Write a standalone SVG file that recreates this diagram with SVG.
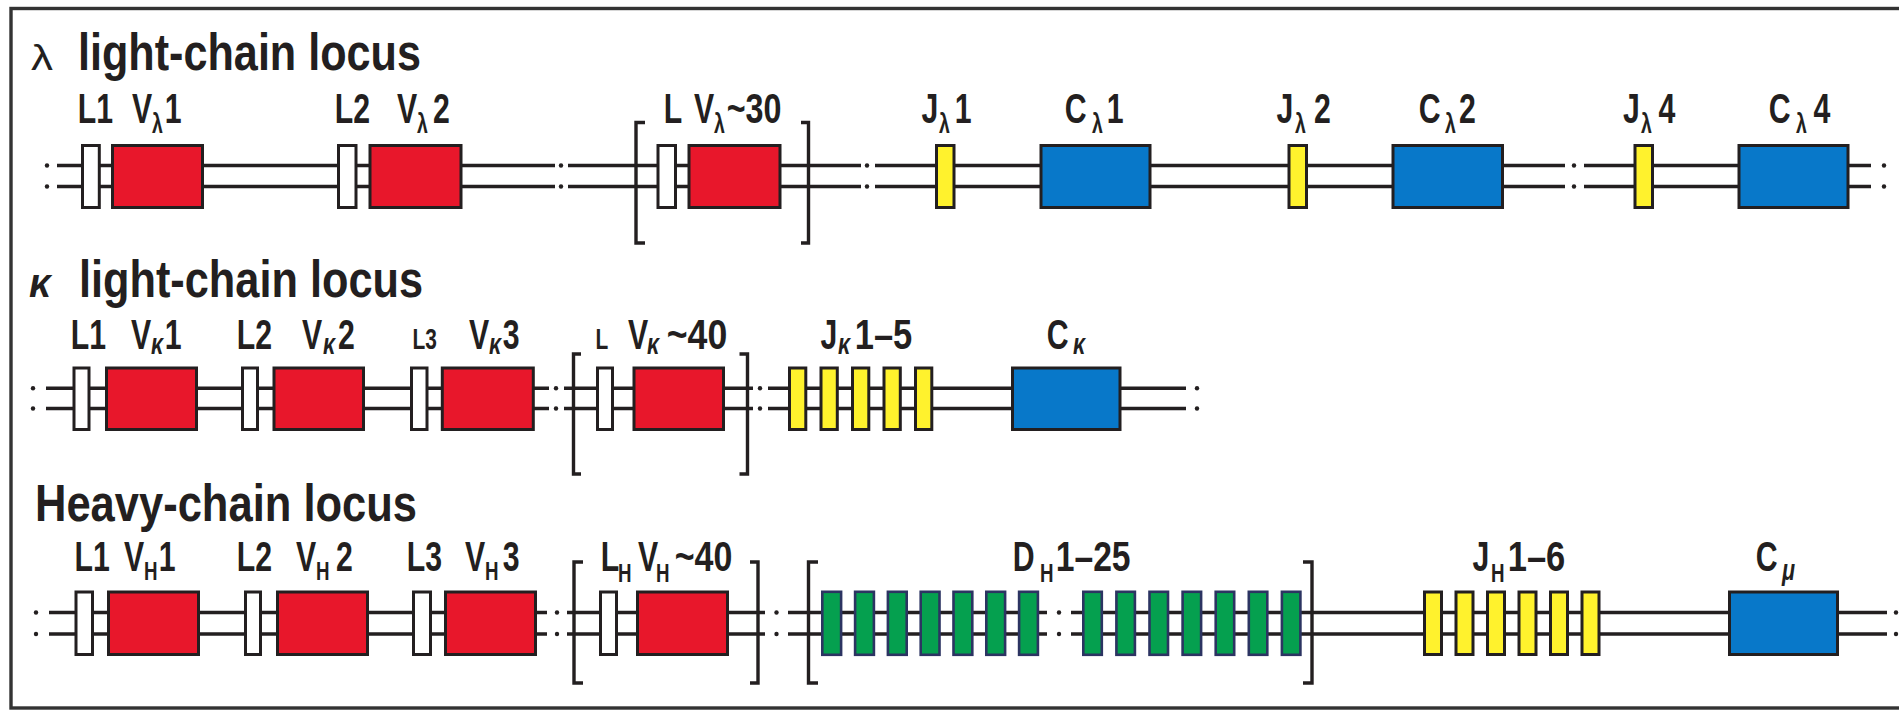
<svg xmlns="http://www.w3.org/2000/svg" width="1899" height="710" viewBox="0 0 1899 710">
<style>
.tt{font-family:"Liberation Sans",Arial,sans-serif;font-weight:bold;font-size:52px;fill:#231f20}
.lb{font-family:"Liberation Sans",Arial,sans-serif;font-weight:bold;font-size:42px;fill:#231f20}
.sub{font-size:27px}
.subh{font-size:26px}
.subk{font-size:30px;font-style:italic}
.sm{font-size:29px}
.ln{stroke:#231f20;stroke-width:3.4;fill:none}
.br{stroke:#231f20;stroke-width:3.4;fill:none}
.bx{stroke:#231f20;stroke-width:3}
.w{fill:#ffffff}
.r{fill:#e8172b}
.b{fill:#0878c9}
.y{fill:#fff22d}
.g{fill:#05a04f;stroke:#2c3462;stroke-width:2.6}
.dt{fill:#231f20}
</style>
<rect x="0" y="0" width="1899" height="710" fill="#ffffff"/>
<rect x="11" y="8.5" width="1900" height="699.5" fill="none" stroke="#333333" stroke-width="3.4"/>

<!-- titles -->
<g id="title-lambda">
<text x="31" y="70" font-family="Liberation Sans, Arial, sans-serif" font-size="35" fill="#231f20" textLength="22" lengthAdjust="spacingAndGlyphs">λ</text>
<text class="tt" x="78" y="70" textLength="343" lengthAdjust="spacingAndGlyphs">light-chain locus</text>
</g>
<g id="title-kappa">
<text x="29" y="297" font-family="Liberation Sans, Arial, sans-serif" font-size="40" font-weight="bold" font-style="italic" fill="#231f20" textLength="22" lengthAdjust="spacingAndGlyphs">κ</text>
<text class="tt" x="79" y="297" textLength="344" lengthAdjust="spacingAndGlyphs">light-chain locus</text>
</g>
<g id="title-heavy">
<text class="tt" x="35" y="521" textLength="382" lengthAdjust="spacingAndGlyphs">Heavy-chain locus</text>
</g>

<!-- connectors: DNA strands, breaks -->
<g id="connectors">
<path class="ln" d="M57 165.5H555M568 165.5H861M875 165.5H1565M1584 165.5H1871M57 186.5H555M568 186.5H861M875 186.5H1565M1584 186.5H1871"/>
<g class="dt">
<circle cx="47" cy="165.5" r="2.2"/><circle cx="47" cy="186.5" r="2.2"/>
<circle cx="561" cy="165.5" r="2.2"/><circle cx="561" cy="186.5" r="2.2"/>
<circle cx="867" cy="165.5" r="2.2"/><circle cx="867" cy="186.5" r="2.2"/>
<circle cx="1574" cy="165.5" r="2.2"/><circle cx="1574" cy="186.5" r="2.2"/>
<circle cx="1884" cy="165.5" r="2.2"/><circle cx="1884" cy="186.5" r="2.2"/>
</g>
<path class="ln" d="M46 388.3H549M564 388.3H753M768 388.3H1186M46 408.5H549M564 408.5H753M768 408.5H1186"/>
<g class="dt">
<circle cx="33" cy="388.3" r="2.2"/><circle cx="33" cy="408.5" r="2.2"/>
<circle cx="556" cy="388.3" r="2.2"/><circle cx="556" cy="408.5" r="2.2"/>
<circle cx="760" cy="388.3" r="2.2"/><circle cx="760" cy="408.5" r="2.2"/>
<circle cx="1197" cy="388.3" r="2.2"/><circle cx="1197" cy="408.5" r="2.2"/>
</g>
<path class="ln" d="M49 612.5H547M567 612.5H765M788 612.5H1047M1071 612.5H1887M49 634H547M567 634H765M788 634H1047M1071 634H1887"/>
<g class="dt">
<circle cx="36" cy="612.5" r="2.2"/><circle cx="36" cy="634" r="2.2"/>
<circle cx="557" cy="612.5" r="2.2"/><circle cx="557" cy="634" r="2.2"/>
<circle cx="776.5" cy="612.5" r="2.2"/><circle cx="776.5" cy="634" r="2.2"/>
<circle cx="1059" cy="612.5" r="2.2"/><circle cx="1059" cy="634" r="2.2"/>
<circle cx="1896" cy="612.5" r="2.2"/><circle cx="1896" cy="634" r="2.2"/>
</g>
</g>

<!-- ===== lambda locus ===== -->
<g id="lam-L1-V1">
<rect class="bx w" x="82.5" y="145.5" width="16.8" height="62"/>
<rect class="bx r" x="112.5" y="145.5" width="90" height="62"/>
<text class="lb" transform="scale(0.72,1)" y="123"><tspan x="108.06">L1</tspan><tspan x="183.33">V</tspan><tspan class="sub" x="211.11" y="133">λ</tspan><tspan x="228.75" y="123">1</tspan></text>
</g>
<g id="lam-L2-V2">
<rect class="bx w" x="338.5" y="145.5" width="17.5" height="62"/>
<rect class="bx r" x="370" y="145.5" width="91" height="62"/>
<text class="lb" transform="scale(0.72,1)" y="123"><tspan x="465">L2</tspan><tspan x="551.39">V</tspan><tspan class="sub" x="579.17" y="133">λ</tspan><tspan x="601.39" y="123">2</tspan></text>
</g>
<g id="lam-L-V30">
<path class="br" d="M645 122.5H636V243H645M801 122.5H808.5V243H801"/>
<rect class="bx w" x="658" y="145.5" width="17.5" height="62"/>
<rect class="bx r" x="689" y="145.5" width="91" height="62"/>
<text class="lb" transform="scale(0.72,1)" y="123"><tspan x="921.94">L</tspan><tspan x="963.89">V</tspan><tspan class="sub" x="991.67" y="133">λ</tspan><tspan x="1009.44" y="123" textLength="76" lengthAdjust="spacingAndGlyphs">~30</tspan></text>
</g>
<g id="lam-J1">
<rect class="bx y" x="936.5" y="145.5" width="17.5" height="62"/>
<text class="lb" transform="scale(0.72,1)" y="123"><tspan x="1279.72">J</tspan><tspan class="sub" x="1304.17" y="133">λ</tspan><tspan x="1325.97" y="123">1</tspan></text>
</g>
<g id="lam-C1">
<rect class="bx b" x="1041" y="145.5" width="109" height="62"/>
<text class="lb" transform="scale(0.72,1)" y="123"><tspan x="1478.75">C</tspan><tspan class="sub" x="1516.67" y="133">λ</tspan><tspan x="1537.08" y="123">1</tspan></text>
</g>
<g id="lam-J2">
<rect class="bx y" x="1289" y="145.5" width="17.5" height="62"/>
<text class="lb" transform="scale(0.72,1)" y="123"><tspan x="1772.78">J</tspan><tspan class="sub" x="1798.61" y="133">λ</tspan><tspan x="1825" y="123">2</tspan></text>
</g>
<g id="lam-C2">
<rect class="bx b" x="1393" y="145.5" width="109.5" height="62"/>
<text class="lb" transform="scale(0.72,1)" y="123"><tspan x="1970.42">C</tspan><tspan class="sub" x="2006.94" y="133">λ</tspan><tspan x="2026.39" y="123">2</tspan></text>
</g>
<g id="lam-J4">
<rect class="bx y" x="1635" y="145.5" width="17.5" height="62"/>
<text class="lb" transform="scale(0.72,1)" y="123"><tspan x="2254.17">J</tspan><tspan class="sub" x="2279.17" y="133">λ</tspan><tspan x="2303.33" y="123">4</tspan></text>
</g>
<g id="lam-C4">
<rect class="bx b" x="1739" y="145.5" width="109" height="62"/>
<text class="lb" transform="scale(0.72,1)" y="123"><tspan x="2456.53">C</tspan><tspan class="sub" x="2494.44" y="133">λ</tspan><tspan x="2518.61" y="123">4</tspan></text>
</g>

<!-- ===== kappa locus ===== -->
<g id="kap-L1-V1">
<rect class="bx w" x="74" y="368" width="15" height="61.5"/>
<rect class="bx r" x="106.5" y="368" width="90" height="61.5"/>
<text class="lb" transform="scale(0.72,1)" y="349"><tspan x="98.33">L1</tspan><tspan x="181.94">V</tspan><tspan class="subk" x="209.72" y="354">κ</tspan><tspan x="228.75" y="349">1</tspan></text>
</g>
<g id="kap-L2-V2">
<rect class="bx w" x="242.5" y="368" width="15" height="61.5"/>
<rect class="bx r" x="274" y="368" width="89.5" height="61.5"/>
<text class="lb" transform="scale(0.72,1)" y="349"><tspan x="328.89">L2</tspan><tspan x="419.44">V</tspan><tspan class="subk" x="448.61" y="354">κ</tspan><tspan x="469.44" y="349">2</tspan></text>
</g>
<g id="kap-L3-V3">
<rect class="bx w" x="411.5" y="368" width="15.5" height="61.5"/>
<rect class="bx r" x="442.3" y="368" width="91" height="61.5"/>
<text class="lb" transform="scale(0.72,1)" y="349"><tspan class="sm" x="572.92">L3</tspan><tspan x="651.39">V</tspan><tspan class="subk" x="679.17" y="354">κ</tspan><tspan x="698.33" y="349">3</tspan></text>
</g>
<g id="kap-L-V40">
<path class="br" d="M581 354H573.5V474H581M739.5 354H747.5V474H739.5"/>
<rect class="bx w" x="597.5" y="368" width="15" height="61.5"/>
<rect class="bx r" x="634" y="368" width="89.5" height="61.5"/>
<text class="lb" transform="scale(0.72,1)" y="349"><tspan class="sm" x="827.08">L</tspan><tspan x="872.22">V</tspan><tspan class="subk" x="898.61" y="354">κ</tspan><tspan x="926.11" y="349" textLength="84" lengthAdjust="spacingAndGlyphs">~40</tspan></text>
</g>
<g id="kap-J1-5">
<rect class="bx y" x="789.5" y="368" width="16.3" height="61.5"/>
<rect class="bx y" x="821" y="368" width="16.3" height="61.5"/>
<rect class="bx y" x="852.5" y="368" width="16.3" height="61.5"/>
<rect class="bx y" x="884" y="368" width="16.3" height="61.5"/>
<rect class="bx y" x="915.5" y="368" width="16.3" height="61.5"/>
<text class="lb" transform="scale(0.72,1)" y="349"><tspan x="1139.44">J</tspan><tspan class="subk" x="1163.89" y="354">κ</tspan><tspan x="1187.08" y="349" textLength="80" lengthAdjust="spacingAndGlyphs">1–5</tspan></text>
</g>
<g id="kap-C">
<rect class="bx b" x="1012.5" y="368" width="107.5" height="61.5"/>
<text class="lb" transform="scale(0.72,1)" y="349"><tspan x="1453.75">C</tspan><tspan class="subk" x="1490.28" y="354">κ</tspan></text>
</g>

<!-- ===== heavy-chain locus ===== -->
<g id="hv-L1-V1">
<rect class="bx w" x="76" y="592" width="16.5" height="62.5"/>
<rect class="bx r" x="108.5" y="592" width="90" height="62.5"/>
<text class="lb" transform="scale(0.72,1)" y="571"><tspan x="103.47">L1</tspan><tspan x="172.22">V</tspan><tspan class="subh" x="200" y="580">H</tspan><tspan x="220.42" y="571">1</tspan></text>
</g>
<g id="hv-L2-V2">
<rect class="bx w" x="245.5" y="592" width="15" height="62.5"/>
<rect class="bx r" x="277.5" y="592" width="90" height="62.5"/>
<text class="lb" transform="scale(0.72,1)" y="571"><tspan x="328.89">L2</tspan><tspan x="411.11">V</tspan><tspan class="subh" x="438.89" y="580">H</tspan><tspan x="466.67" y="571">2</tspan></text>
</g>
<g id="hv-L3-V3">
<rect class="bx w" x="413.5" y="592" width="17" height="62.5"/>
<rect class="bx r" x="445.5" y="592" width="90" height="62.5"/>
<text class="lb" transform="scale(0.72,1)" y="571"><tspan x="564.86">L3</tspan><tspan x="645.83">V</tspan><tspan class="subh" x="673.61" y="580">H</tspan><tspan x="698.33" y="571">3</tspan></text>
</g>
<g id="hv-LH-VH40">
<path class="br" d="M583 562H574V683H583M750 562H758V683H750"/>
<rect class="bx w" x="600.5" y="592" width="16" height="62.5"/>
<rect class="bx r" x="637.5" y="592" width="90" height="62.5"/>
<text class="lb" transform="scale(0.72,1)" y="571"><tspan x="834.44">L</tspan><tspan class="subh" x="858.33" y="582">H</tspan><tspan x="886.11" y="571">V</tspan><tspan class="subh" x="911.11" y="582">H</tspan><tspan x="937.22" y="571" textLength="80" lengthAdjust="spacingAndGlyphs">~40</tspan></text>
</g>
<g id="hv-DH1-25">
<path class="br" d="M818 562H808.5V683H818M1303 562H1312V683H1303"/>
<rect class="g" x="822.3" y="591.8" width="18.8" height="63"/>
<rect class="g" x="855.1" y="591.8" width="18.8" height="63"/>
<rect class="g" x="887.9" y="591.8" width="18.8" height="63"/>
<rect class="g" x="920.7" y="591.8" width="18.8" height="63"/>
<rect class="g" x="953.5" y="591.8" width="18.8" height="63"/>
<rect class="g" x="986.3" y="591.8" width="18.8" height="63"/>
<rect class="g" x="1019.1" y="591.8" width="18.8" height="63"/>
<rect class="g" x="1083.3" y="591.8" width="18.5" height="63"/>
<rect class="g" x="1116.4" y="591.8" width="18.5" height="63"/>
<rect class="g" x="1149.5" y="591.8" width="18.5" height="63"/>
<rect class="g" x="1182.6" y="591.8" width="18.5" height="63"/>
<rect class="g" x="1215.7" y="591.8" width="18.5" height="63"/>
<rect class="g" x="1248.8" y="591.8" width="18.5" height="63"/>
<rect class="g" x="1281.9" y="591.8" width="18.5" height="63"/>
<text class="lb" transform="scale(0.72,1)" y="571"><tspan x="1406.53">D</tspan><tspan class="subh" x="1444.44" y="582">H</tspan><tspan x="1466.25" y="571" textLength="104" lengthAdjust="spacingAndGlyphs">1–25</tspan></text>
</g>
<g id="hv-JH1-6">
<rect class="bx y" x="1424.5" y="592" width="17" height="62.5"/>
<rect class="bx y" x="1456" y="592" width="17" height="62.5"/>
<rect class="bx y" x="1487.5" y="592" width="17" height="62.5"/>
<rect class="bx y" x="1519" y="592" width="17" height="62.5"/>
<rect class="bx y" x="1550.5" y="592" width="17" height="62.5"/>
<rect class="bx y" x="1582" y="592" width="17" height="62.5"/>
<text class="lb" transform="scale(0.72,1)" y="571"><tspan x="2045">J</tspan><tspan class="subh" x="2070.83" y="582">H</tspan><tspan x="2094.03" y="571" textLength="80" lengthAdjust="spacingAndGlyphs">1–6</tspan></text>
</g>
<g id="hv-Cmu">
<rect class="bx b" x="1729.5" y="592" width="108" height="62.5"/>
<text class="lb" transform="scale(0.72,1)" y="571"><tspan x="2438.48">C</tspan><tspan class="subk" x="2475" y="580">μ</tspan></text>
</g>
</svg>
